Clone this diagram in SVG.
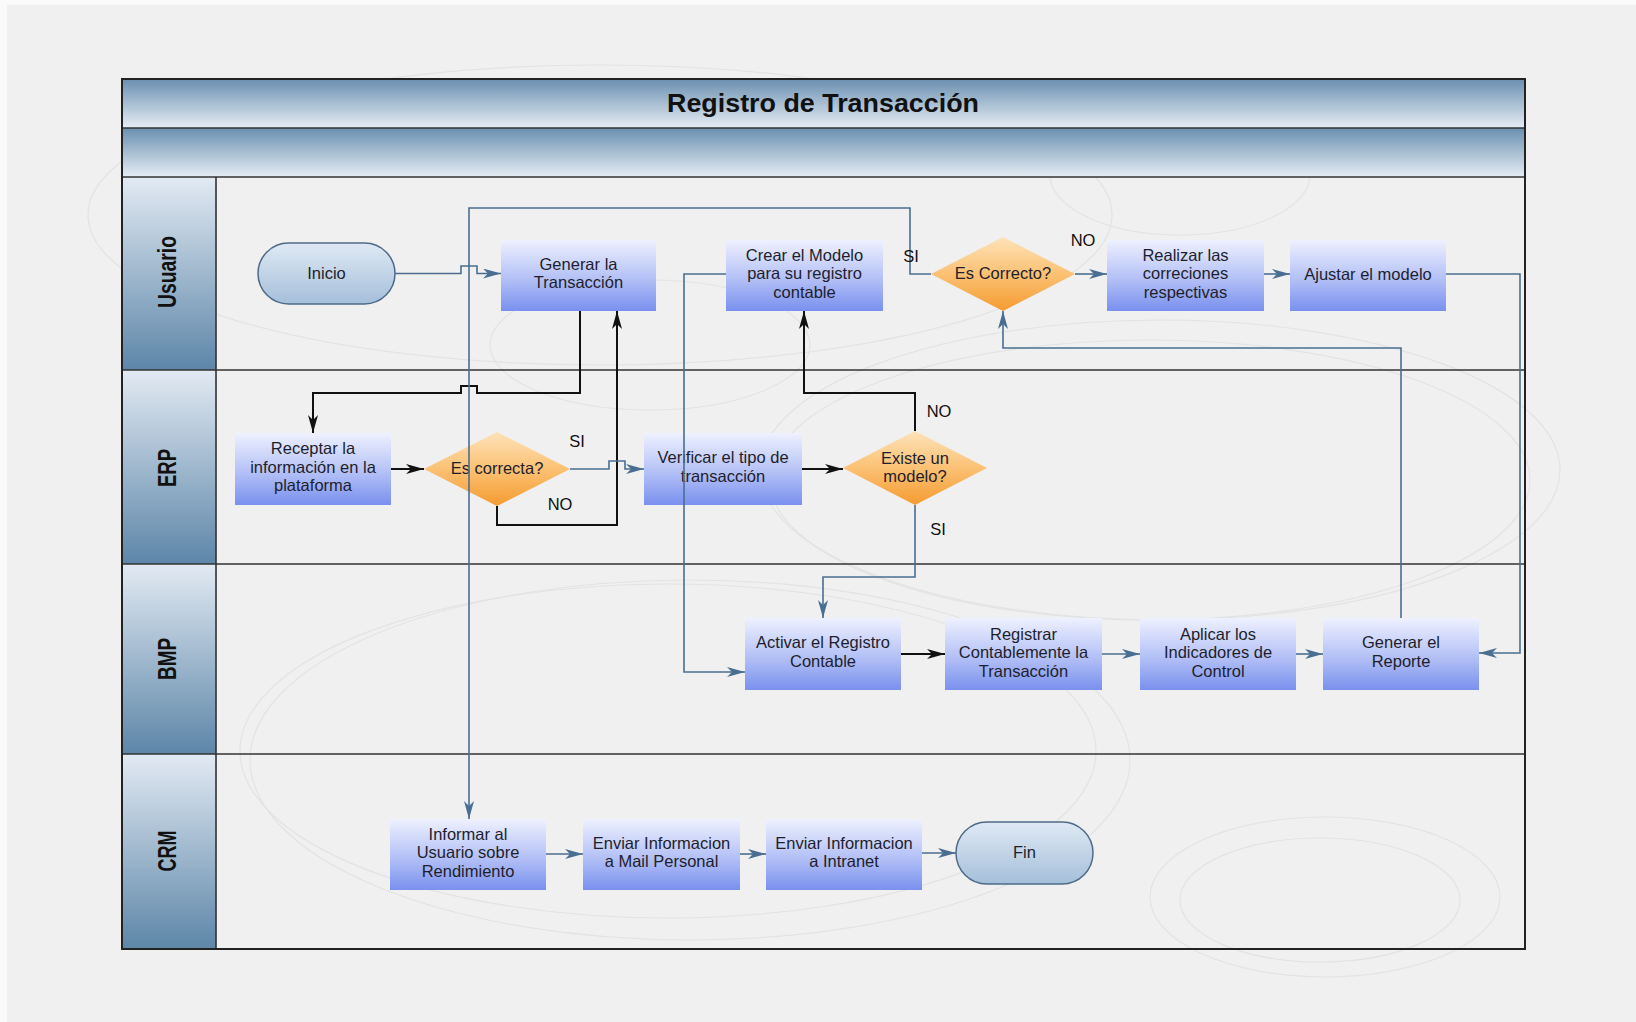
<svg xmlns="http://www.w3.org/2000/svg" width="1636" height="1022" viewBox="0 0 1636 1022">
<defs>
<linearGradient id="gBand" x1="0" y1="0" x2="0" y2="1"><stop offset="0" stop-color="#6a8fb0"/><stop offset="1" stop-color="#e6edf4"/></linearGradient>
<linearGradient id="gLane" x1="0" y1="0" x2="0" y2="1"><stop offset="0" stop-color="#e2eaf3"/><stop offset="1" stop-color="#5d86a8"/></linearGradient>
<linearGradient id="gBox" x1="0" y1="0" x2="0" y2="1"><stop offset="0" stop-color="#eef1ff"/><stop offset="0.55" stop-color="#b3c0f6"/><stop offset="1" stop-color="#7990ee"/></linearGradient>
<linearGradient id="gDia" x1="0" y1="0" x2="0" y2="1"><stop offset="0" stop-color="#fde3b9"/><stop offset="0.5" stop-color="#fbc174"/><stop offset="1" stop-color="#f59b30"/></linearGradient>
<linearGradient id="gTerm" x1="0" y1="0" x2="0" y2="1"><stop offset="0" stop-color="#dfe9f4"/><stop offset="1" stop-color="#a5bfda"/></linearGradient>
<marker id="ab" viewBox="0 0 18 10" refX="18" refY="5" markerWidth="18" markerHeight="10" markerUnits="userSpaceOnUse" orient="auto"><path d="M0,0 L18,5 L0,10 L5,5 Z" fill="#4a6e91"/></marker>
<marker id="ak" viewBox="0 0 18 10" refX="18" refY="5" markerWidth="18" markerHeight="10" markerUnits="userSpaceOnUse" orient="auto"><path d="M0,0 L18,5 L0,10 L5,5 Z" fill="#111"/></marker>
</defs>
<style>
text{font-family:"Liberation Sans",Arial,Helvetica,sans-serif;}
.t{font-size:16.5px;fill:#1e1e2c;text-anchor:middle;}
.lbl{font-size:16.5px;fill:#111;text-anchor:middle;}
.lane{font-size:26px;font-weight:bold;fill:#111;text-anchor:middle;}
.box{fill:url(#gBox);}
.dia{fill:url(#gDia);}
.term{fill:url(#gTerm);stroke:#4d6b88;stroke-width:1.5;}
.sw{fill:none;stroke:#e3e3e3;stroke-width:1.2;}
.cb{fill:none;stroke:#4a6e91;stroke-width:1.6;marker-end:url(#ab);}
.ck{fill:none;stroke:#111;stroke-width:2;marker-end:url(#ak);}
.sep{stroke:#333;stroke-width:1.6;fill:none;}
</style>
<rect x="0" y="0" width="1636" height="1022" fill="#fafafa"/>
<rect x="7" y="5" width="1629" height="1017" fill="#f0f0f0"/>
<g id="swirls">
<ellipse class="sw" cx="600" cy="215" rx="512" ry="150"/>
<ellipse class="sw" cx="668" cy="751" rx="428" ry="167"/>
<ellipse class="sw" cx="690" cy="760" rx="440" ry="180"/>
<ellipse class="sw" cx="1160" cy="470" rx="400" ry="150"/>
<ellipse class="sw" cx="1150" cy="480" rx="380" ry="140"/>
<ellipse class="sw" cx="1325" cy="897" rx="175" ry="80"/>
<ellipse class="sw" cx="1320" cy="900" rx="140" ry="62"/>
<ellipse class="sw" cx="1180" cy="175" rx="130" ry="60"/>
<ellipse class="sw" cx="650" cy="345" rx="160" ry="65"/>
</g>
<g id="pool">
<rect x="122" y="79" width="1403" height="49" fill="url(#gBand)"/>
<rect x="122" y="128" width="1403" height="49" fill="url(#gBand)"/>
<rect x="122" y="177" width="94" height="193" fill="url(#gLane)"/>
<rect x="122" y="370" width="94" height="194" fill="url(#gLane)"/>
<rect x="122" y="564" width="94" height="190" fill="url(#gLane)"/>
<rect x="122" y="754" width="94" height="195" fill="url(#gLane)"/>
<path class="sep" d="M122,128 H1525 M122,177 H1525 M122,370 H1525 M122,564 H1525 M122,754 H1525 M216,177 V949"/>
<rect x="122" y="79" width="1403" height="870" fill="none" stroke="#222" stroke-width="2"/>
<text x="823" y="112" font-size="25" font-weight="bold" fill="#111" text-anchor="middle" textLength="312" lengthAdjust="spacingAndGlyphs">Registro de Transacción</text>
<text class="lane" transform="translate(176,272) rotate(-90)" textLength="72" lengthAdjust="spacingAndGlyphs">Usuario</text>
<text class="lane" transform="translate(176,468) rotate(-90)" textLength="38" lengthAdjust="spacingAndGlyphs">ERP</text>
<text class="lane" transform="translate(176,659) rotate(-90)" textLength="42" lengthAdjust="spacingAndGlyphs">BMP</text>
<text class="lane" transform="translate(176,851) rotate(-90)" textLength="41" lengthAdjust="spacingAndGlyphs">CRM</text>
</g>
<g id="n-inicio"><rect class="term" x="258" y="243" width="137" height="61" rx="30.5"/><text class="t" x="326.5" y="278.5">Inicio</text></g>
<g id="n-generar"><rect class="box" x="501" y="240" width="155" height="71"/><text class="t" x="578.5" y="269.7">Generar la</text><text class="t" x="578.5" y="288.2">Transacción</text></g>
<g id="n-crear"><rect class="box" x="726" y="240" width="157" height="71"/><text class="t" x="804.5" y="260.5">Crear el Modelo</text><text class="t" x="804.5" y="279">para su registro</text><text class="t" x="804.5" y="297.5">contable</text></g>
<g id="n-escorrecto"><polygon class="dia" points="1003,237 1075,274 1003,311 931,274"/><text class="t" x="1003" y="279">Es Correcto?</text></g>
<g id="n-realizar"><rect class="box" x="1107" y="240" width="157" height="71"/><text class="t" x="1185.5" y="260.5">Realizar las</text><text class="t" x="1185.5" y="279">correciones</text><text class="t" x="1185.5" y="297.5">respectivas</text></g>
<g id="n-ajustar"><rect class="box" x="1290" y="240" width="156" height="71"/><text class="t" x="1368" y="279.5">Ajustar el modelo</text></g>
<g id="n-receptar"><rect class="box" x="235" y="433" width="156" height="72"/><text class="t" x="313" y="454">Receptar la</text><text class="t" x="313" y="472.5">información en la</text><text class="t" x="313" y="491">plataforma</text></g>
<g id="n-escorrecta"><polygon class="dia" points="497,432 570,469 497,506 424,469"/><text class="t" x="497" y="474">Es correcta?</text></g>
<g id="n-verificar"><rect class="box" x="644" y="433" width="158" height="72"/><text class="t" x="723" y="463.3">Verificar el tipo de</text><text class="t" x="723" y="481.8">transacción</text></g>
<g id="n-existe"><polygon class="dia" points="915,431 987,468 915,505 843,468"/><text class="t" x="915" y="463.8">Existe un</text><text class="t" x="915" y="482.3">modelo?</text></g>
<g id="n-activar"><rect class="box" x="745" y="618" width="156" height="72"/><text class="t" x="823" y="648.3">Activar el Registro</text><text class="t" x="823" y="666.8">Contable</text></g>
<g id="n-registrar"><rect class="box" x="945" y="618" width="157" height="72"/><text class="t" x="1023.5" y="639.5">Registrar</text><text class="t" x="1023.5" y="658">Contablemente la</text><text class="t" x="1023.5" y="676.5">Transacción</text></g>
<g id="n-aplicar"><rect class="box" x="1140" y="618" width="156" height="72"/><text class="t" x="1218" y="639.5">Aplicar los</text><text class="t" x="1218" y="658">Indicadores de</text><text class="t" x="1218" y="676.5">Control</text></g>
<g id="n-reporte"><rect class="box" x="1323" y="618" width="156" height="72"/><text class="t" x="1401" y="648.3">Generar el</text><text class="t" x="1401" y="666.8">Reporte</text></g>
<g id="n-informar"><rect class="box" x="390" y="819" width="156" height="71"/><text class="t" x="468" y="839.5">Informar al</text><text class="t" x="468" y="858">Usuario sobre</text><text class="t" x="468" y="876.5">Rendimiento</text></g>
<g id="n-mail"><rect class="box" x="583" y="819" width="157" height="71"/><text class="t" x="661.5" y="848.7">Enviar Informacion</text><text class="t" x="661.5" y="867.2">a Mail Personal</text></g>
<g id="n-intranet"><rect class="box" x="766" y="819" width="156" height="71"/><text class="t" x="844" y="848.7">Enviar Informacion</text><text class="t" x="844" y="867.2">a Intranet</text></g>
<g id="n-fin"><rect class="term" x="956" y="822" width="137" height="62" rx="31"/><text class="t" x="1024.5" y="858">Fin</text></g>
<g id="connectors">
<path class="cb" d="M395,273.5 H461 V266 H477 V273.5 H501"/>
<path class="ck" d="M580,311 V393 H477 V386 H461 V393 H313 V433"/>
<path class="ck" d="M497,506 V525 H617 V311"/>
<path class="ck" d="M391,469 H424"/>
<path class="cb" d="M570,469 H609 V461 H625 V469 H644"/>
<path class="ck" d="M802,469 H843"/>
<path class="ck" d="M915,431 V393 H804 V311"/>
<path class="cb" d="M915,505 V577 H823 V618"/>
<path class="cb" d="M726,274 H684 V672 H745"/>
<path class="cb" d="M931,274 H910 V208 H469 V819"/>
<path class="cb" d="M1075,274 H1107"/>
<path class="cb" d="M1264,274 H1290"/>
<path class="cb" d="M1446,274 H1520 V653 H1479"/>
<path class="cb" d="M1401,618 V348 H1003 V311"/>
<path class="ck" d="M901,654 H945"/>
<path class="cb" d="M1102,654 H1140"/>
<path class="cb" d="M1296,654 H1323"/>
<path class="cb" d="M546,854 H583"/>
<path class="cb" d="M740,854 H766"/>
<path class="cb" d="M922,853 H956"/>
<text class="lbl" x="911" y="262">SI</text>
<text class="lbl" x="1083" y="246">NO</text>
<text class="lbl" x="577" y="447">SI</text>
<text class="lbl" x="560" y="510">NO</text>
<text class="lbl" x="939" y="417">NO</text>
<text class="lbl" x="938" y="535">SI</text>
</g>
</svg>
